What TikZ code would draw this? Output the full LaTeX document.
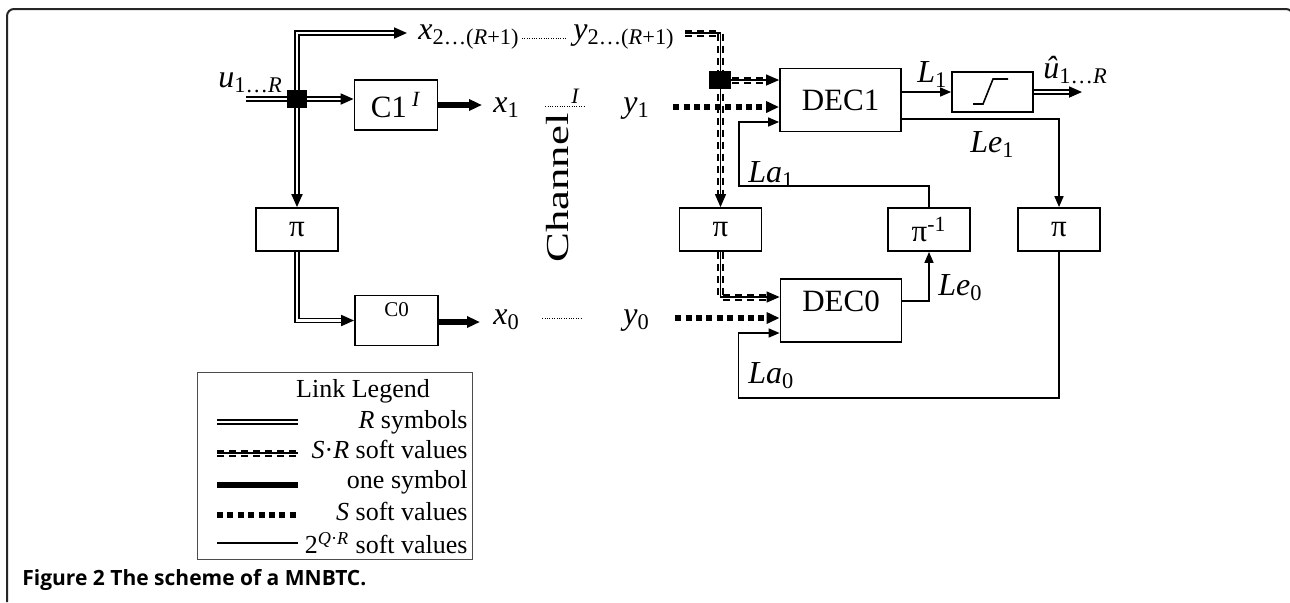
\documentclass[tikz,border=0pt]{standalone}
\usepackage{fontspec}
\setmainfont{Liberation Serif}
\newfontfamily\capfont{Open Sans}
\usepackage{tikz}
\usetikzlibrary{positioning, arrows.meta}

\newcommand{\vsub}[2]{\textit{#1}\textsubscript{#2}}

\begin{document}
\begin{tikzpicture}[
    x=0.5pt, y=-0.5pt,
    >={Triangle[length=6.5pt, width=5.5pt]},
    thinarrow/.style={-{Triangle[length=5.5pt, width=4.5pt]}},
    box/.style={draw=black, line width=0.9pt, inner sep=0pt, font=\fontsize{15.5}{18}\selectfont},
    pibox/.style={box, minimum width=41pt, minimum height=21.5pt},
    decbox/.style={box, minimum width=60.5pt, minimum height=31.5pt},
    encbox/.style={box, minimum width=41.5pt, minimum height=25pt},
    lbl/.style={inner sep=0pt, font=\fontsize{16}{19}\selectfont},
    legtext/.style={inner sep=0pt, anchor=base east, font=\fontsize{13}{15}\selectfont},
    junction/.style={fill=black, inner sep=0pt},
    symb/.style={double, line width=0.9pt, double distance=1.1pt},
    onesym/.style={line width=3pt},
    ssoft/.style={line width=3pt, dash pattern=on 3pt off 2.2pt},
    srsoft/.style={line width=0.6pt, preaction={draw, -, shorten >=#1, double=white, line width=1pt, double distance=1.5pt, dash pattern=on 3.5pt off 2.5pt}},
    srsoft/.default=0pt,
    qsoft/.style={line width=0.8pt},
    chan/.style={line width=0.5pt, dash pattern=on 0.4pt off 0.8pt}
]
    \useasboundingbox (0,0) rectangle (1290,602);

    % Frame and caption
    \draw[line width=1pt, black!85, rounded corners=3.5pt] (7,602) -- (7,9) -- (1293,9) -- (1293,602);
    \node[anchor=base west, inner sep=0pt, font=\capfont\bfseries\fontsize{10.5}{12}\selectfont] (caption) at (22,585) {Figure 2 The scheme of a MNBTC.};

    % Encoders and interleavers
    \node[encbox] (c1) at (396,105) {C1\,\textsuperscript{\textit{I}}};
    \node[encbox, text depth=10.5pt, font=\fontsize{10.5}{12}\selectfont] (c0) at (396.5,320.5) {C0};
    \node[pibox] (pil) at (297,229.5) {π};
    \node[pibox] (pim) at (720.5,229.5) {π};
    \node[pibox] (piinv) at (929,229.5) {π\textsuperscript{-1}};
    \node[pibox] (pir) at (1059,229.5) {π};

    % Decoders
    \node[decbox] (dec1) at (840.5,100) {DEC1};
    \node[decbox, text depth=9pt] (dec0) at (841,310.5) {DEC0};
    \node[box, minimum width=40.5pt, minimum height=20pt] (hd) at (992.5,92) {};
    \draw[line width=0.8pt] (973,104) -- (983,104) -- (993,79) -- (1008,79);

    % Labels
    \node[lbl, anchor=base west] (u) at (218,87) {\vsub{u}{1…\textit{R}}};
    \node[lbl, anchor=base west] (x2) at (418,39) {\vsub{x}{2…(\textit{R}+1)}};
    \node[lbl, anchor=base west] (y2) at (573,39) {\vsub{y}{2…(\textit{R}+1)}};
    \node[lbl, anchor=base west] (x1) at (493,112) {\vsub{x}{1}};
    \node[lbl, anchor=base west] (y1) at (623,112) {\vsub{y}{1}};
    \node[lbl, anchor=base west] (x0) at (493,324) {\vsub{x}{0}};
    \node[lbl, anchor=base west] (y0) at (623,324) {\vsub{y}{0}};
    \node[lbl, font=\fontsize{11}{13}\selectfont\itshape] (chI) at (575,96) {I};
    \node[lbl, anchor=base west] (l1) at (917,82) {\vsub{L}{1}};
    \node[lbl, anchor=base west] (uhat) at (1043,78) {\vsub{\^{u}}{1…\textit{R}}};
    \node[lbl, anchor=base west] (le1) at (970,152) {\vsub{Le}{1}};
    \node[lbl, anchor=base west] (la1) at (748,182) {\vsub{La}{1}};
    \node[lbl, anchor=base west] (le0) at (938,295) {\vsub{Le}{0}};
    \node[lbl, anchor=base west] (la0) at (748,383) {\vsub{La}{0}};
    \node[rotate=90, xscale=1.4, inner sep=0pt, font=\fontsize{16}{19}\selectfont] (channel) at (558,188) {Channel};

    % Points
    \coordinate (jl) at (297,99);
    \coordinate (jr) at (720,80);
    \coordinate (uin) at (246,99);
    \coordinate (x2in) at (407,33);
    \coordinate (uhatend) at (1082,92);
    \coordinate (d1b) at ([yshift=-3.5pt]dec1.west);
    \coordinate (d1c) at ([yshift=-11pt]dec1.west);
    \coordinate (d0a) at ([yshift=6.75pt]dec0.west);
    \coordinate (d0b) at ([yshift=-3.75pt]dec0.west);
    \coordinate (d0c) at ([yshift=-11.25pt]dec0.west);

    % Transmitter
    \draw[symb] (uin) -- (jl);
    \draw[symb, ->] (jl) -- (jl -| c1.west);
    \draw[symb, ->] (jl) |- (x2in);
    \draw[symb, ->] (jl) -- (pil);
    \draw[symb, ->] (pil) |- (c0);
    \draw[onesym, ->] (c1) -- ([xshift=-5.5pt]x1.west |- c1);
    \draw[onesym, ->] (c0.east |- 0,322) -- ([xshift=-6.5pt]x0.west |- 0,322);

    % Channel
    \draw[chan] ([shift={(1pt,0.5pt)}]x2.base east) -- ([shift={(-3.5pt,0.5pt)}]y2.base west);
    \draw[chan] ([shift={(12.5pt,3pt)}]x1.base east) -- ([shift={(-18.5pt,3pt)}]y1.base west);
    \draw[chan] ([shift={(11pt,3pt)}]x0.base east) -- ([shift={(-20.5pt,3pt)}]y0.base west);

    % Receiver
    \draw[srsoft=6.5pt, ->] ([xshift=5pt]y2.east |- x2in) -| (pim);
    \draw[srsoft=6.5pt, ->] (jr) -- (jr -| dec1.west);
    \draw[ssoft, ->] ([xshift=11.5pt]y1.east |- d1b) -- (d1b);
    \draw[qsoft, thinarrow] (piinv.north) -- ++(0,-21) -| ([xshift=-20pt]d1c) -- (d1c);
    \draw[qsoft, thinarrow] (dec1.east |- hd) -- (hd.west);
    \draw[symb, ->] (hd.east) -- (uhatend);
    \draw[qsoft, thinarrow] ([yshift=-9.5pt]dec1.east) -| (pir);
    \draw[srsoft=6.5pt, ->] (pim) |- (d0a);
    \draw[ssoft, ->] ([xshift=12.5pt]y0.east |- d0b) -- (d0b);
    \draw[qsoft, thinarrow] (pir.south) |- ([shift={(-20.5pt,-32.5pt)}]d0c) |- (d0c);
    \draw[qsoft, thinarrow] ([yshift=4.75pt]dec0.east) -| (piinv);

    % Junctions
    \node[junction, minimum width=10pt, minimum height=9pt] (jlbox) at (jl) {};
    \node[junction, minimum width=11pt, minimum height=9pt] (jrbox) at (jr) {};

    % Legend
    \node[draw=black!70, line width=0.5pt, minimum width=137.5pt, minimum height=93.5pt] (legend) at (334.5,465.5) {};
    \node[legtext, anchor=base] (legtitle) at (363,397) {Link Legend};
    \coordinate (lg1a) at (217,422); \coordinate (lg1b) at (298,422);
    \coordinate (lg2a) at (217,453); \coordinate (lg2b) at (298,453);
    \coordinate (lg3a) at (217,485); \coordinate (lg3b) at (298,485);
    \coordinate (lg4a) at (217,515); \coordinate (lg4b) at (298,515);
    \coordinate (lg5a) at (217,543); \coordinate (lg5b) at (298,543);
    \draw[symb] (lg1a) -- (lg1b);
    \draw[srsoft] (lg2a) -- (lg2b);
    \draw[onesym] (lg3a) -- (lg3b);
    \draw[ssoft] (lg4a) -- (lg4b);
    \draw[qsoft] (lg5a) -- (lg5b);
    \node[legtext] (lgt1) at (468,428) {\textit{R} symbols};
    \node[legtext] (lgt2) at (468,458) {\textit{S}·\textit{R} soft values};
    \node[legtext] (lgt3) at (468,488) {one symbol};
    \node[legtext] (lgt4) at (468,520) {\textit{S} soft values};
    \node[legtext] (lgt5) at (468,553) {2\textsuperscript{\textit{Q}·\textit{R}} soft values};

\end{tikzpicture}
\end{document}
